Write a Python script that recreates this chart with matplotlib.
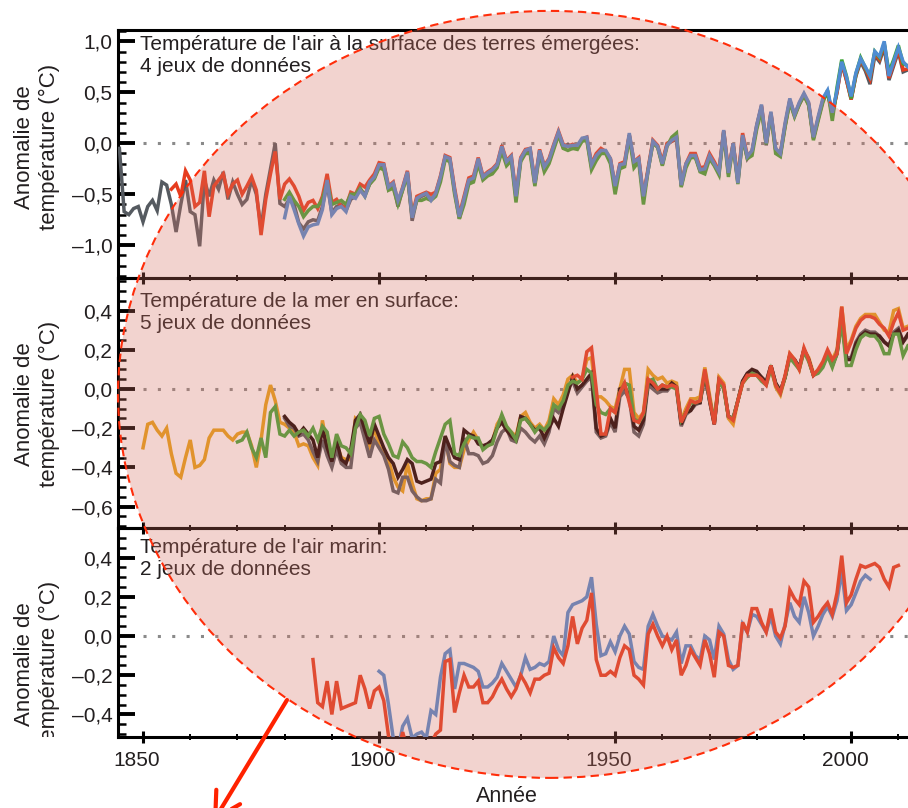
import numpy as np
import matplotlib
matplotlib.use("Agg")
import matplotlib.pyplot as plt
from matplotlib.patches import Ellipse, FancyArrowPatch
from matplotlib.ticker import MultipleLocator, FuncFormatter
from matplotlib.transforms import ScaledTranslation, Bbox, TransformedBbox

plt.rcParams['font.family'] = ['Liberation Sans', 'DejaVu Sans']

# ---- land air temperature (4 datasets) ----
land_gray_start = 1845
land_gray = [-0.05, -0.67, -0.70, -0.64, -0.62, -0.77, -0.62, -0.56, -0.66, -0.38,
             -0.41, -0.60, -0.87, -0.60, -0.36, -0.67, -0.70, -1.01, -0.36, -0.52,
             -0.36, -0.45, -0.28, -0.55, -0.38, -0.50, -0.60, -0.55, -0.36, -0.50,
             -0.83, -0.50, -0.25, 0.00, -0.59, -0.62, -0.55, -0.60, -0.78, -0.84,
             -0.77, -0.75, -0.76, -0.62, -0.40, -0.68, -0.62, -0.60, -0.66, -0.55,
             -0.52, -0.45, -0.50, -0.40, -0.34, -0.22, -0.22, -0.45, -0.40, -0.62,
             -0.45, -0.29, -0.76, -0.55, -0.52, -0.50, -0.55, -0.50, -0.34, -0.14,
             -0.16, -0.47, -0.74, -0.55, -0.37, -0.35, -0.17, -0.34, -0.30, -0.27,
             -0.22, -0.05, -0.19, -0.15, -0.53, -0.16, -0.09, -0.07, -0.40, -0.09,
             -0.25, -0.18, -0.04, 0.09, -0.04, -0.01, -0.05, -0.04, 0.03, 0.04,
             -0.23, -0.14, -0.06, -0.09, -0.16, -0.44, -0.22, -0.21, 0.08, -0.20,
             -0.16, -0.53, -0.26, 0.01, -0.03, -0.21, -0.01, 0.02, 0.04, -0.42,
             -0.21, -0.13, -0.13, -0.27, -0.26, -0.14, -0.21, -0.29, 0.12, -0.30,
             0.00, -0.38, 0.06, -0.15, -0.08, 0.18, 0.36, -0.02, 0.29, -0.06,
             -0.11, 0.17, 0.42, 0.28, 0.38, 0.47, 0.38, 0.05, 0.24, 0.42,
             0.50, 0.29, 0.50, 0.78, 0.62, 0.43, 0.66, 0.80, 0.71, 0.58,
             0.86, 0.80, 0.94, 0.62, 0.76, 0.90, 0.70, 0.72]
land_red_start = 1856
land_red = [-0.45, -0.40, -0.52, -0.27, -0.36, -0.62, -0.58, -0.27, -0.72, -0.42,
            -0.36, -0.30, -0.50, -0.40, -0.36, -0.50, -0.42, -0.33, -0.46, -0.90,
            -0.55, -0.30, -0.08, -0.55, -0.40, -0.35, -0.42, -0.52, -0.66, -0.58,
            -0.56, -0.64, -0.52, -0.30, -0.58, -0.55, -0.62, -0.62, -0.48, -0.50,
            -0.40, -0.43, -0.36, -0.30, -0.19, -0.20, -0.42, -0.38, -0.58, -0.43,
            -0.27, -0.70, -0.52, -0.50, -0.48, -0.50, -0.48, -0.32, -0.12, -0.14,
            -0.44, -0.70, -0.52, -0.34, -0.32, -0.14, -0.32, -0.28, -0.25, -0.20,
            -0.02, -0.17, -0.12, -0.50, -0.14, -0.06, -0.05, -0.38, -0.06, -0.22,
            -0.15, -0.01, 0.12, -0.01, -0.03, -0.01, -0.03, 0.04, 0.06, -0.20,
            -0.10, -0.05, -0.08, -0.15, -0.42, -0.20, -0.18, 0.08, -0.18, -0.14,
            -0.52, -0.24, 0.03, -0.02, -0.18, 0.00, 0.02, 0.06, -0.40, -0.20,
            -0.10, -0.10, -0.24, -0.23, -0.10, -0.18, -0.27, 0.12, -0.27, 0.00,
            -0.36, 0.10, -0.12, -0.08, 0.16, 0.37, 0.00, 0.30, -0.06, -0.10,
            0.18, 0.42, 0.27, 0.39, 0.48, 0.39, 0.05, 0.24, 0.42, 0.50,
            0.28, 0.50, 0.79, 0.62, 0.43, 0.67, 0.82, 0.73, 0.63, 0.88,
            0.82, 0.97, 0.64, 0.78, 0.92, 0.72, 0.73]
land_green_start = 1880
land_green = [-0.55, -0.48, -0.56, -0.62, -0.72, -0.66, -0.62, -0.62, -0.55, -0.38,
              -0.60, -0.58, -0.56, -0.60, -0.50, -0.50, -0.44, -0.52, -0.40, -0.35,
              -0.24, -0.26, -0.46, -0.44, -0.60, -0.46, -0.32, -0.72, -0.56, -0.56,
              -0.54, -0.56, -0.52, -0.38, -0.16, -0.18, -0.50, -0.74, -0.60, -0.40,
              -0.38, -0.20, -0.36, -0.32, -0.30, -0.24, -0.08, -0.22, -0.17, -0.58,
              -0.18, -0.10, -0.10, -0.42, -0.10, -0.28, -0.20, -0.06, 0.08, -0.05,
              -0.07, -0.05, -0.06, 0.02, 0.03, -0.26, -0.17, -0.10, -0.10, -0.20,
              -0.50, -0.25, -0.23, 0.06, -0.24, -0.18, -0.60, -0.26, 0.00, -0.04,
              -0.22, -0.03, 0.06, 0.10, -0.43, -0.24, -0.14, -0.14, -0.28, -0.30,
              -0.15, -0.22, -0.31, 0.10, -0.33, -0.02, -0.40, 0.05, -0.15, -0.12,
              0.14, 0.32, -0.01, 0.28, -0.10, -0.13, 0.16, 0.40, 0.26, 0.38,
              0.47, 0.37, 0.03, 0.22, 0.40, 0.52, 0.22, 0.55, 0.82, 0.66,
              0.44, 0.68, 0.84, 0.74, 0.66, 0.90, 0.84, 0.98, 0.70, 0.82,
              0.96, 0.78, 0.76]
land_blue_start = 1880
land_blue = [-0.73, -0.52, -0.65, -0.79, -0.91, -0.82, -0.80, -0.79, -0.65, -0.36,
             -0.70, -0.64, -0.62, -0.67, -0.52, -0.54, -0.46, -0.52, -0.38, -0.33,
             -0.21, -0.21, -0.43, -0.39, -0.56, -0.44, -0.28, -0.73, -0.54, -0.51,
             -0.49, -0.56, -0.49, -0.33, -0.13, -0.15, -0.46, -0.72, -0.54, -0.36,
             -0.34, -0.15, -0.33, -0.29, -0.26, -0.21, -0.03, -0.18, -0.13, -0.52,
             -0.15, -0.07, -0.05, -0.39, -0.07, -0.23, -0.16, -0.02, 0.11, -0.02,
             -0.03, -0.02, -0.02, 0.05, 0.06, -0.21, -0.12, -0.07, -0.07, -0.15,
             -0.42, -0.21, -0.20, 0.10, -0.18, -0.15, -0.52, -0.26, 0.02, -0.03,
             -0.20, -0.02, 0.03, 0.06, -0.41, -0.20, -0.12, -0.12, -0.26, -0.25,
             -0.12, -0.20, -0.28, 0.13, -0.29, 0.00, -0.39, 0.08, -0.13, -0.07,
             0.18, 0.38, 0.00, 0.31, -0.05, -0.10, 0.20, 0.44, 0.28, 0.40,
             0.49, 0.40, 0.06, 0.26, 0.44, 0.52, 0.30, 0.52, 0.80, 0.65,
             0.46, 0.69, 0.83, 0.75, 0.66, 0.90, 0.85, 1.00, 0.66, 0.80,
             0.94, 0.80, 0.75]

# ---- sea surface temperature (5 datasets) ----
sst_yellow_start = 1850
sst_yellow = [-0.30, -0.18, -0.17, -0.21, -0.24, -0.20, -0.33, -0.43, -0.45, -0.35,
              -0.26, -0.40, -0.39, -0.36, -0.25, -0.21, -0.21, -0.21, -0.24, -0.26,
              -0.23, -0.22, -0.22, -0.29, -0.40, -0.26, -0.08, 0.02, -0.06, -0.17,
              -0.18, -0.20, -0.22, -0.29, -0.28, -0.29, -0.35, -0.39, -0.16, -0.30,
              -0.38, -0.28, -0.35, -0.36, -0.36, -0.15, -0.17, -0.22, -0.29, -0.20,
              -0.29, -0.33, -0.36, -0.45, -0.50, -0.52, -0.38, -0.48, -0.56, -0.57,
              -0.56, -0.56, -0.43, -0.41, -0.25, -0.38, -0.40, -0.40, -0.31, -0.26,
              -0.22, -0.26, -0.30, -0.29, -0.27, -0.18, -0.14, -0.20, -0.22, -0.24,
              -0.14, -0.12, -0.17, -0.20, -0.18, -0.21, -0.16, -0.05, -0.08, -0.03,
              0.05, 0.07, 0.03, 0.05, 0.15, 0.16, -0.04, -0.04, -0.06, -0.09,
              -0.10, 0.00, 0.10, 0.10, -0.12, -0.15, -0.12, 0.10, 0.07, 0.05,
              0.06, 0.03, 0.04, 0.03, -0.16, -0.10, -0.05, -0.05, -0.04, 0.11,
              -0.03, -0.17, 0.06, 0.03, -0.15, -0.18, -0.06, 0.03, 0.06, 0.08,
              0.08, 0.06, 0.03, 0.12, 0.01, -0.03, 0.06, 0.18, 0.15, 0.10,
              0.20, 0.16, 0.08, 0.09, 0.13, 0.19, 0.15, 0.20, 0.42, 0.20,
              0.25, 0.32, 0.36, 0.38, 0.38, 0.38, 0.34, 0.30, 0.29, 0.40,
              0.41, 0.31, 0.32]
sst_brown_start = 1880
sst_brown = [-0.15, -0.19, -0.20, -0.24, -0.23, -0.26, -0.32, -0.37, -0.26, -0.34,
             -0.40, -0.31, -0.38, -0.40, -0.40, -0.20, -0.17, -0.26, -0.35, -0.26,
             -0.30, -0.34, -0.41, -0.52, -0.53, -0.45, -0.45, -0.52, -0.55, -0.57,
             -0.57, -0.56, -0.46, -0.48, -0.26, -0.37, -0.39, -0.40, -0.25, -0.33,
             -0.33, -0.34, -0.38, -0.37, -0.34, -0.27, -0.22, -0.20, -0.26, -0.27,
             -0.20, -0.22, -0.25, -0.27, -0.24, -0.28, -0.22, -0.10, -0.12, -0.07,
             0.00, 0.04, -0.02, 0.01, 0.04, 0.06, -0.22, -0.25, -0.24, -0.17,
             -0.22, -0.04, -0.01, -0.05, -0.22, -0.24, -0.18, 0.02, 0.00, -0.02,
             -0.01, -0.01, 0.02, 0.00, -0.19, -0.13, -0.11, -0.08, -0.07, 0.08,
             -0.06, -0.18, 0.04, 0.01, -0.14, -0.15, -0.06, 0.04, 0.08, 0.09,
             0.08, 0.06, 0.04, 0.12, 0.03, -0.01, 0.06, 0.17, 0.15, 0.11,
             0.20, 0.15, 0.07, 0.09, 0.12, 0.18, 0.12, 0.19, 0.37, 0.16,
             0.16, 0.24, 0.28, 0.30, 0.29, 0.29, 0.27, 0.24, 0.22, 0.29,
             0.31, 0.24, 0.27]
sst_black_start = 1880
sst_black = [-0.14, -0.17, -0.19, -0.23, -0.20, -0.23, -0.26, -0.35, -0.20, -0.30,
             -0.37, -0.26, -0.36, -0.38, -0.31, -0.16, -0.13, -0.21, -0.28, -0.18,
             -0.24, -0.30, -0.35, -0.38, -0.45, -0.41, -0.36, -0.38, -0.47, -0.48,
             -0.47, -0.46, -0.38, -0.37, -0.24, -0.30, -0.35, -0.36, -0.21, -0.23,
             -0.24, -0.28, -0.29, -0.28, -0.26, -0.20, -0.17, -0.21, -0.24, -0.26,
             -0.14, -0.15, -0.18, -0.21, -0.20, -0.25, -0.20, -0.15, -0.19, -0.10,
             -0.02, 0.06, 0.00, 0.02, 0.05, 0.08, -0.20, -0.24, -0.23, -0.15,
             -0.20, 0.00, 0.01, -0.03, -0.19, -0.21, -0.16, 0.04, 0.02, 0.00,
             0.00, 0.00, 0.03, 0.01, -0.18, -0.12, -0.11, -0.07, -0.07, 0.08,
             -0.06, -0.18, 0.04, 0.01, -0.14, -0.15, -0.06, 0.04, 0.08, 0.10,
             0.09, 0.06, 0.03, 0.12, 0.03, -0.01, 0.06, 0.17, 0.15, 0.11,
             0.20, 0.15, 0.07, 0.09, 0.12, 0.18, 0.12, 0.18, 0.36, 0.15,
             0.15, 0.23, 0.27, 0.29, 0.28, 0.28, 0.27, 0.24, 0.22, 0.28,
             0.30, 0.24, 0.28]
sst_green_start = 1870
sst_green = [-0.27, -0.26, -0.22, -0.30, -0.35, -0.25, -0.35, -0.12, -0.09, -0.23,
             -0.24, -0.21, -0.24, -0.22, -0.21, -0.24, -0.20, -0.26, -0.19, -0.22,
             -0.35, -0.23, -0.29, -0.30, -0.33, -0.20, -0.13, -0.16, -0.24, -0.15,
             -0.14, -0.23, -0.28, -0.34, -0.35, -0.27, -0.30, -0.35, -0.37, -0.37,
             -0.38, -0.40, -0.32, -0.25, -0.18, -0.16, -0.33, -0.34, -0.28, -0.24,
             -0.25, -0.25, -0.31, -0.29, -0.28, -0.20, -0.13, -0.19, -0.22, -0.26,
             -0.16, -0.15, -0.18, -0.22, -0.19, -0.21, -0.18, -0.08, -0.10, -0.06,
             0.02, 0.04, 0.03, 0.05, 0.10, 0.08, -0.08, -0.12, -0.13, -0.10,
             -0.12, -0.02, 0.03, 0.02, -0.15, -0.17, -0.13, 0.04, 0.05, 0.00,
             0.02, 0.01, 0.01, 0.00, -0.16, -0.12, -0.07, -0.07, -0.06, 0.09,
             -0.05, -0.16, 0.04, 0.00, -0.14, -0.15, -0.06, 0.03, 0.06, 0.08,
             0.07, 0.04, 0.02, 0.10, 0.02, -0.02, 0.06, 0.16, 0.13, 0.10,
             0.19, 0.14, 0.07, 0.08, 0.11, 0.17, 0.11, 0.18, 0.34, 0.12,
             0.12, 0.20, 0.26, 0.28, 0.27, 0.27, 0.24, 0.18, 0.18, 0.28,
             0.28, 0.17, 0.22]
sst_red_start = 1941
sst_red = [0.06, 0.07, 0.05, 0.19, 0.21, 0.00, -0.23, -0.23, -0.10, -0.12,
           -0.02, 0.03, -0.07, -0.16, -0.17, -0.12, 0.05, 0.03, 0.00, 0.02,
           0.01, 0.02, 0.01, -0.17, -0.12, -0.06, -0.07, -0.06, 0.10, -0.05,
           -0.18, 0.05, 0.02, -0.14, -0.16, -0.06, 0.03, 0.07, 0.07, 0.07,
           0.05, 0.02, 0.12, 0.02, -0.02, 0.07, 0.18, 0.15, 0.10, 0.21,
           0.15, 0.07, 0.10, 0.14, 0.20, 0.15, 0.18, 0.42, 0.18, 0.24,
           0.31, 0.35, 0.37, 0.37, 0.36, 0.33, 0.31, 0.27, 0.34, 0.39,
           0.30, 0.31]

# ---- marine air temperature (2 datasets) ----
mat_blue_start = 1900
mat_blue = [-0.18, -0.20, -0.35, -0.52, -0.58, -0.46, -0.42, -0.52, -0.50, -0.49,
            -0.52, -0.38, -0.40, -0.21, -0.09, -0.07, -0.27, -0.14, -0.14, -0.15,
            -0.16, -0.18, -0.26, -0.26, -0.24, -0.21, -0.14, -0.18, -0.22, -0.26,
            -0.20, -0.11, -0.17, -0.16, -0.14, -0.15, -0.13, 0.00, -0.07, -0.10,
            0.12, 0.16, 0.17, 0.18, 0.20, 0.30, 0.06, -0.10, -0.09, -0.03,
            -0.08, 0.00, 0.05, 0.01, -0.13, -0.16, -0.17, 0.05, 0.11, 0.05,
            0.00, -0.01, -0.02, 0.02, -0.14, -0.05, -0.05, -0.10, -0.12, 0.00,
            -0.02, -0.12, 0.05, 0.01, -0.12, -0.17, -0.15, 0.06, 0.02, 0.11,
            0.10, 0.06, 0.02, 0.10, 0.00, -0.04, 0.06, 0.17, 0.10, 0.07,
            0.20, 0.12, 0.00, 0.05, 0.11, 0.15, 0.10, 0.18, 0.33, 0.13,
            0.16, 0.22, 0.28, 0.31, 0.29]
mat_red_start = 1886
mat_red = [-0.12, -0.34, -0.36, -0.23, -0.40, -0.23, -0.37, -0.36, -0.35, -0.34,
           -0.20, -0.27, -0.37, -0.28, -0.26, -0.33, -0.51, -0.58, -0.60, -0.49,
           -0.58, -0.62, -0.60, -0.60, -0.62, -0.55, -0.50, -0.48, -0.13, -0.12,
           -0.39, -0.29, -0.20, -0.26, -0.26, -0.23, -0.34, -0.34, -0.31, -0.26,
           -0.22, -0.27, -0.31, -0.27, -0.20, -0.24, -0.29, -0.22, -0.22, -0.20,
           -0.19, -0.06, -0.11, -0.14, -0.05, 0.10, -0.04, 0.04, 0.08, 0.22,
           -0.12, -0.20, -0.20, -0.18, -0.20, -0.11, -0.05, -0.07, -0.20, -0.22,
           -0.25, 0.01, 0.06, 0.00, -0.05, 0.00, -0.07, -0.02, -0.20, -0.15,
           -0.07, -0.11, -0.15, -0.02, -0.09, -0.21, 0.02, 0.00, -0.15, -0.16,
           -0.15, 0.07, 0.02, 0.14, 0.14, 0.07, 0.02, 0.14, 0.02, -0.01,
           0.05, 0.235, 0.19, 0.16, 0.28, 0.25, 0.07, 0.10, 0.14, 0.17,
           0.11, 0.22, 0.41, 0.17, 0.21, 0.29, 0.36, 0.35, 0.36, 0.37,
           0.35, 0.29, 0.25, 0.35, 0.36]

titles = ["Température de l'air à la surface des terres émergées:\n4 jeux de données",
          "Température de la mer en surface:\n5 jeux de données",
          "Température de l'air marin:\n2 jeux de données"]
ylabel = "Anomalie de\ntempérature (°C)"
xlabel = "Année"

W, H = 908, 808
fig = plt.figure(figsize=(W / 100, H / 100), dpi=100)


def px_axes(top, bottom, left=118, right=922):
    return fig.add_axes([left / W, 1 - bottom / H, (right - left) / W, (bottom - top) / H])


def fmt(v, pos):
    s = f"{v:.1f}".replace('.', ',')
    if s.startswith('-'):
        s = '\u2013' + s[1:]
    if s == '\u20130,0':
        s = '0,0'
    return s


ax1 = px_axes(30, 278)
ax2 = px_axes(278, 528)
ax3 = px_axes(528, 737)
axes = [ax1, ax2, ax3]

ax1.set_ylim(-1.321, 1.111)
ax2.set_ylim(-0.709, 0.566)
ax3.set_ylim(-0.515, 0.551)

c_red = '#e63c1e'
c_green = '#3fa536'
c_blue = '#4f8cd2'
c_gray = '#555a60'
c_yellow = '#e8a317'
c_black = '#140000'
c_text = '#231f20'
lw = 2.5


def series(ax, start, vals, color, z):
    yrs = np.arange(start, start + len(vals))
    ax.plot(yrs, vals, color=color, lw=lw, zorder=z, solid_joinstyle='miter')


series(ax1, land_gray_start, land_gray, c_gray, 3)
series(ax1, land_red_start, land_red, c_red, 4)
series(ax1, land_green_start, land_green, c_green, 5)
series(ax1, land_blue_start, land_blue, c_blue, 6)

series(ax2, sst_yellow_start, sst_yellow, c_yellow, 3)
series(ax2, sst_brown_start, sst_brown, c_gray, 4)
series(ax2, sst_black_start, sst_black, c_black, 5)
series(ax2, sst_green_start, sst_green, c_green, 6)
series(ax2, sst_red_start, sst_red, c_red, 7)

series(ax3, mat_blue_start, mat_blue, c_blue, 3)
series(ax3, mat_red_start, mat_red, c_red, 4)

for i, ax in enumerate(axes):
    ax.set_xlim(1844.7, 2015)
    ax.set_facecolor('none')
    ax.plot([1850, 2015], [0, 0], color='#8a8a8a', lw=2.2,
            ls=(0, (1, 3.7)), dash_capstyle='butt', zorder=2)
    ax.xaxis.set_major_locator(MultipleLocator(50))
    ax.xaxis.set_minor_locator(MultipleLocator(10))
    if i == 0:
        ax.yaxis.set_major_locator(MultipleLocator(0.5))
        ax.yaxis.set_minor_locator(MultipleLocator(0.1))
    else:
        ax.yaxis.set_major_locator(MultipleLocator(0.2))
        ax.yaxis.set_minor_locator(MultipleLocator(0.05))
    ax.yaxis.set_major_formatter(FuncFormatter(fmt))
    ax.tick_params(axis='y', which='major', direction='in', length=12, width=2.8,
                   labelsize=15, pad=4, colors='black', labelcolor=c_text)
    ax.tick_params(axis='y', which='minor', direction='in', length=6, width=1.8)
    ax.tick_params(axis='x', which='major', direction='inout', length=8, width=2.2,
                   top=False, labelsize=15, pad=6, labelcolor=c_text)
    ax.tick_params(axis='x', which='minor', direction='inout', length=5, width=1.4, top=False)
    for s in ['left', 'top', 'bottom']:
        ax.spines[s].set_linewidth(2.2)
        ax.spines[s].set_color('black')
    ax.spines['right'].set_visible(False)
    if i < 2:
        ax.tick_params(axis='x', labelbottom=False)

shift = ScaledTranslation(-6 / 100, 0, fig.dpi_scale_trans)
for lab in ax3.get_xticklabels():
    lab.set_transform(lab.get_transform() + shift)

# panel titles
for ttl, top in zip(titles, [35, 292, 538]):
    fig.text(140 / W, 1 - top / H, ttl, fontsize=15, color=c_text,
             ha='left', va='top', linespacing=1.2)

# y labels (the bottom one is cut by the crop of the original figure)
clip = TransformedBbox(Bbox([[0, 1 - 737 / H], [1, 1]]), fig.transFigure)
for yc in [147, 404, 664]:
    t = fig.text(37 / W, 1 - yc / H, ylabel, fontsize=16, color=c_text, rotation=90,
                 ha='center', va='center', linespacing=1.3, multialignment='center')
    t.set_clip_box(clip)
    t.set_clip_on(True)

fig.text(507 / W, 1 - 796 / H, xlabel, fontsize=15.5, color=c_text, ha='center', va='center')

# highlight overlay
ell = Ellipse((550 / W, 1 - 394.4 / H), 864 / W, 767 / H, transform=fig.transFigure,
              facecolor=(212 / 255, 112 / 255, 98 / 255, 0.30), edgecolor='#ff2d0a',
              lw=1.5, ls=(0, (4, 2.5)), zorder=20)
fig.add_artist(ell)

arrow = FancyArrowPatch((287 / W, 1 - 700 / H), (213 / W, 1 - 822 / H),
                        transform=fig.transFigure, arrowstyle='->,head_length=0.45,head_width=0.25',
                        mutation_scale=40, color='#ff2200', lw=3, shrinkA=0, shrinkB=0, zorder=21)
fig.add_artist(arrow)

fig.savefig('out.png', dpi=100)
